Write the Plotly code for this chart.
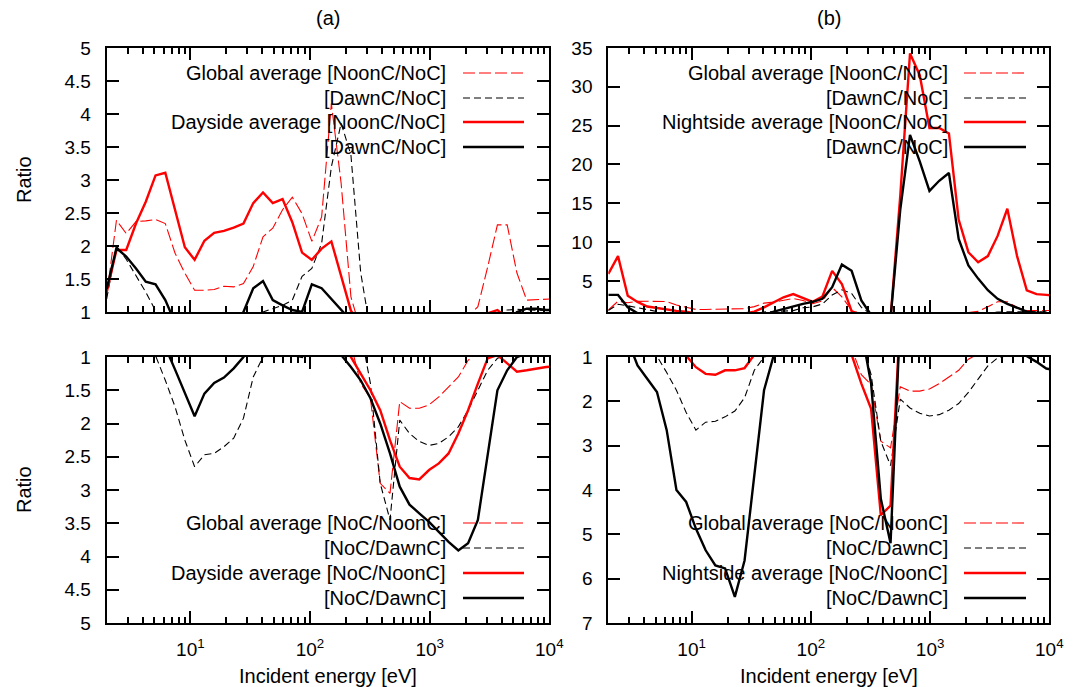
import math
import plotly.graph_objects as go

W, H = 1085, 687

# ---------------- data ----------------
energy = [2.000, 2.413, 2.912, 3.515, 4.242, 5.119, 6.178, 7.456, 8.999, 10.86,
          13.11, 15.82, 19.09, 23.04, 27.80, 33.55, 40.49, 48.86, 58.97, 71.15,
          85.87, 103.6, 125.1, 150.9, 182.1, 219.8, 265.2, 320.1, 386.3, 466.2,
          562.4, 678.8, 819.1, 988.4, 1193, 1439, 1737, 2096, 2530, 3053,
          3684, 4446, 5366, 6475, 7814, 9430, 11380]

global_noon_noc = [1.25, 2.39, 2.19, 2.37, 2.38, 2.40, 2.34, 1.89, 1.59, 1.33,
                   1.33, 1.34, 1.39, 1.38, 1.43, 1.69, 2.14, 2.27, 2.55, 2.74,
                   2.49, 2.07, 2.44, 4.16, 2.95, 1.23, 0.72, 0.60, 0.35, 0.33,
                   0.60, 0.57, 0.56, 0.58, 0.62, 0.69, 0.77, 0.93, 1.08, 1.68,
                   2.32, 2.32, 1.59, 1.18, 1.19, 1.20, 1.20]
global_dawn_noc = [1.20, 2.00, 1.80, 1.55, 1.30, 1.02, 0.74, 0.57, 0.44, 0.38,
                   0.40, 0.41, 0.43, 0.45, 0.52, 0.77, 1.00, 1.05, 1.10, 1.18,
                   1.54, 1.66, 2.04, 3.20, 3.86, 3.38, 1.60, 0.71, 0.34, 0.29,
                   0.51, 0.47, 0.44, 0.43, 0.43, 0.45, 0.49, 0.56, 0.67, 0.83,
                   0.98, 1.03, 1.04, 1.03, 1.03, 1.02, 1.02]
day_noon_noc = [1.30, 1.94, 1.94, 2.34, 2.67, 3.07, 3.11, 2.55, 1.98, 1.79,
                2.08, 2.20, 2.23, 2.28, 2.34, 2.65, 2.81, 2.65, 2.71, 2.36,
                1.90, 1.79, 1.96, 2.07, 1.55, 1.02, 0.80, 0.67, 0.56, 0.44,
                0.38, 0.355, 0.352, 0.37, 0.38, 0.41, 0.47, 0.56, 0.71, 0.98,
                1.03, 0.91, 0.82, 0.83, 0.85, 0.87, 0.88]
day_dawn_noc = [1.35, 1.97, 1.84, 1.66, 1.46, 1.42, 1.18, 0.84, 0.65, 0.53,
                0.65, 0.72, 0.76, 0.85, 1.00, 1.36, 1.47, 1.18, 1.10, 1.03,
                1.00, 1.42, 1.36, 1.19, 1.03, 0.87, 0.74, 0.62, 0.50, 0.41,
                0.34, 0.31, 0.30, 0.29, 0.28, 0.265, 0.256, 0.26, 0.29, 0.41,
                0.67, 0.83, 1.00, 1.05, 1.05, 1.03, 1.03]
night_noon_noc = [5.9, 8.2, 3.1, 2.3, 1.7, 1.5, 1.3, 1.15, 1.03, 0.80,
                  0.72, 0.71, 0.77, 0.77, 0.80, 1.05, 1.6, 2.3, 2.9, 3.3,
                  2.8, 2.3, 3.0, 6.3, 4.6, 1.1, 0.62, 0.46, 0.22, 0.23,
                  16.0, 34.3, 31.5, 24.7, 24.7, 24.0, 12.9, 8.7, 7.4, 8.2,
                  10.8, 14.3, 8.2, 3.8, 3.3, 3.2, 3.1]
night_dawn_noc = [3.2, 3.2, 1.6, 0.85, 0.67, 0.56, 0.38, 0.25, 0.23, 0.20,
                  0.19, 0.175, 0.173, 0.156, 0.18, 0.28, 0.57, 1.05, 1.4, 1.7,
                  2.05, 2.3, 2.7, 4.2, 7.1, 6.3, 2.5, 0.62, 0.24, 0.19,
                  14.2, 23.8, 20.4, 16.6, 17.9, 18.9, 10.4, 7.0, 5.3, 3.8,
                  2.7, 2.05, 1.55, 1.05, 0.9, 0.77, 0.72]

global_noc_noon = [0.80, 0.42, 0.46, 0.42, 0.42, 0.42, 0.43, 0.53, 0.63, 0.75,
                   0.75, 0.75, 0.72, 0.72, 0.70, 0.59, 0.47, 0.44, 0.39, 0.36,
                   0.40, 0.48, 0.41, 0.24, 0.34, 0.81, 1.40, 1.62, 2.90, 3.05,
                   1.67, 1.77, 1.77, 1.72, 1.60, 1.45, 1.30, 1.05, 0.93, 0.60,
                   0.43, 0.43, 0.63, 0.85, 0.84, 0.83, 0.83]
global_noc_dawn = [0.83, 0.50, 0.56, 0.65, 0.77, 0.98, 1.35, 1.75, 2.25, 2.65,
                   2.47, 2.45, 2.35, 2.22, 1.92, 1.30, 1.00, 0.95, 0.91, 0.85,
                   0.65, 0.60, 0.49, 0.31, 0.26, 0.30, 0.62, 1.40, 2.90, 3.45,
                   1.95, 2.15, 2.27, 2.33, 2.30, 2.20, 2.05, 1.80, 1.50, 1.20,
                   1.02, 0.97, 0.96, 0.97, 0.97, 0.98, 0.98]
day_noc_noon = [0.77, 0.52, 0.52, 0.43, 0.37, 0.33, 0.32, 0.39, 0.50, 0.56,
                0.48, 0.45, 0.45, 0.44, 0.43, 0.38, 0.36, 0.38, 0.37, 0.42,
                0.53, 0.56, 0.51, 0.48, 0.63, 1.00, 1.25, 1.50, 1.80, 2.25,
                2.65, 2.82, 2.84, 2.70, 2.60, 2.45, 2.15, 1.80, 1.40, 1.02,
                0.97, 1.10, 1.22, 1.20, 1.17, 1.15, 1.14]
day_noc_dawn = [0.74, 0.51, 0.54, 0.60, 0.68, 0.70, 0.85, 1.19, 1.55, 1.89,
                1.55, 1.39, 1.31, 1.17, 1.00, 0.74, 0.68, 0.85, 0.91, 0.97,
                1.00, 0.70, 0.73, 0.84, 0.97, 1.15, 1.35, 1.62, 2.00, 2.45,
                2.95, 3.22, 3.35, 3.48, 3.63, 3.78, 3.91, 3.80, 3.45, 2.45,
                1.50, 1.20, 1.00, 0.95, 0.95, 0.97, 0.97]
night_noc_noon = [0.17, 0.12, 0.32, 0.43, 0.59, 0.67, 0.77, 0.87, 0.97, 1.23,
                  1.38, 1.40, 1.30, 1.30, 1.25, 0.95, 0.63, 0.43, 0.34, 0.30,
                  0.36, 0.43, 0.33, 0.16, 0.22, 0.95, 1.60, 2.17, 4.57, 4.35,
                  0.06, 0.03, 0.03, 0.04, 0.04, 0.04, 0.08, 0.11, 0.14, 0.12,
                  0.09, 0.07, 0.12, 0.26, 0.30, 0.31, 0.32]
night_noc_dawn = [0.31, 0.31, 0.62, 1.19, 1.49, 1.79, 2.65, 4.00, 4.27, 4.87,
                  5.36, 5.70, 5.77, 6.41, 5.59, 3.63, 1.75, 0.96, 0.71, 0.59,
                  0.49, 0.43, 0.37, 0.24, 0.14, 0.16, 0.40, 1.60, 4.20, 5.20,
                  0.07, 0.04, 0.05, 0.06, 0.056, 0.053, 0.10, 0.14, 0.19, 0.26,
                  0.37, 0.49, 0.65, 0.98, 1.11, 1.26, 1.30]

x_tickvals = [10, 100, 1000, 10000]
x_ticktext = ["10<sup>1</sup>", "10<sup>2</sup>", "10<sup>3</sup>", "10<sup>4</sup>"]
ratio_ticks_a = [1, 1.5, 2, 2.5, 3, 3.5, 4, 4.5, 5]
ratio_ticks_b_top = [5, 10, 15, 20, 25, 30, 35]
ratio_ticks_b_bot = [1, 2, 3, 4, 5, 6, 7]

legend_top_a = ["Global average [NoonC/NoC]", "[DawnC/NoC]", "Dayside average [NoonC/NoC]", "[DawnC/NoC]"]
legend_top_b = ["Global average [NoonC/NoC]", "[DawnC/NoC]", "Nightside average [NoonC/NoC]", "[DawnC/NoC]"]
legend_bot_a = ["Global average [NoC/NoonC]", "[NoC/DawnC]", "Dayside average [NoC/NoonC]", "[NoC/DawnC]"]
legend_bot_b = ["Global average [NoC/NoonC]", "[NoC/DawnC]", "Nightside average [NoC/NoonC]", "[NoC/DawnC]"]

# ---------------- styles ----------------
FONT = "Liberation Sans, Arial, Helvetica, sans-serif"
RED = "#ff0000"
BLACK = "#000000"
styles = [
    dict(color=RED, width=1.1, dash="12px,4px"),
    dict(color=BLACK, width=1.1, dash="7px,4px"),
    dict(color=RED, width=2.4, dash="solid"),
    dict(color=BLACK, width=2.4, dash="solid"),
]

def px(x):
    return x / W

def py(y):
    return 1 - y / H

fig = go.Figure()

panels = [
    ("x", "y", [global_noon_noc, global_dawn_noc, day_noon_noc, day_dawn_noc]),
    ("x2", "y2", [global_noon_noc, global_dawn_noc, night_noon_noc, night_dawn_noc]),
    ("x3", "y3", [global_noc_noon, global_noc_dawn, day_noc_noon, day_noc_dawn]),
    ("x4", "y4", [global_noc_noon, global_noc_dawn, night_noc_noon, night_noc_dawn]),
]
for xa, ya, series in panels:
    for s, st in zip(series, styles):
        fig.add_trace(go.Scatter(x=energy, y=s, mode="lines", line=st,
                                 xaxis=xa, yaxis=ya, showlegend=False,
                                 hoverinfo="skip"))

xl = [106.7, 549.3]
xr = [608.3, 1049.3]
yt = [48, 312]
yb = [357, 623]

def xaxis(dom, anchor, labels):
    return dict(
        domain=[px(dom[0]), px(dom[1])], anchor=anchor, type="log",
        range=[math.log10(2), 4], showgrid=False, zeroline=False,
        showline=True, linecolor="black", linewidth=2, mirror="allticks",
        ticks="inside", ticklen=12, tickwidth=1.5, tickcolor="black",
        tickmode="array", tickvals=x_tickvals, ticktext=x_ticktext,
        showticklabels=labels, ticklabelstandoff=8, automargin=False,
        tickfont=dict(family=FONT, size=19, color="black"),
        minor=dict(ticks="inside", ticklen=6, tickwidth=1.5, tickcolor="black",
                   dtick="D1", showgrid=False),
    )

def yaxis(dom, anchor, rng, vals):
    return dict(
        domain=[py(dom[1]), py(dom[0])], anchor=anchor, range=rng,
        showgrid=False, zeroline=False, showline=True, linecolor="black",
        linewidth=2, mirror="allticks", ticks="inside", ticklen=12,
        tickwidth=1.5, tickcolor="black", tickmode="array", tickvals=vals,
        ticktext=[("%g" % v) for v in vals], ticklabelstandoff=10,
        automargin=False,
        tickfont=dict(family=FONT, size=19, color="black"),
    )

fig.update_layout(
    width=W, height=H, autosize=False,
    margin=dict(l=0, r=0, t=0, b=0, pad=0),
    paper_bgcolor="white", plot_bgcolor="white",
    font=dict(family=FONT, size=19, color="black"),
    xaxis=xaxis(xl, "y", False),
    yaxis=yaxis(yt, "x", [1, 5], ratio_ticks_a),
    xaxis2=xaxis(xr, "y2", False),
    yaxis2=yaxis(yt, "x2", [1, 35], ratio_ticks_b_top),
    xaxis3=xaxis(xl, "y3", True),
    yaxis3=yaxis(yb, "x3", [5, 1], ratio_ticks_a),
    xaxis4=xaxis(xr, "y4", True),
    yaxis4=yaxis(yb, "x4", [7, 1], ratio_ticks_b_bot),
)

ann = []
shapes = []

def text(x, y, s, **kw):
    d = dict(x=px(x), y=py(y), xref="paper", yref="paper", text=s,
             showarrow=False, xanchor="center", yanchor="middle",
             font=dict(family=FONT, size=20, color="black"))
    d.update(kw)
    ann.append(d)

text(328, 18, "(a)")
text(828.8, 18, "(b)")
text(328, 676, "Incident energy [eV]")
text(828.8, 676, "Incident energy [eV]")
text(24, 180, "Ratio", textangle=-90)
text(24, 490, "Ratio", textangle=-90)

def legend(labels, text_right, line_x0, line_x1, rows):
    for lab, st, yy in zip(labels, styles, rows):
        text(text_right, yy, lab, xanchor="right")
        shapes.append(dict(type="line", xref="paper", yref="paper",
                           x0=px(line_x0), x1=px(line_x1), y0=py(yy), y1=py(yy),
                           line=dict(color=st["color"], width=st["width"], dash=st["dash"])))

top_rows = [73, 98, 122, 147]
bot_rows = [523, 548, 573, 598]
legend(legend_top_a, 448, 463, 524, top_rows)
legend(legend_top_b, 950, 964, 1026, top_rows)
legend(legend_bot_a, 448, 463, 524, bot_rows)
legend(legend_bot_b, 950, 964, 1026, bot_rows)

fig.update_layout(annotations=ann, shapes=shapes)
fig.write_html(
    "out.html",
    post_script="document.body.style.margin='0px';document.body.style.padding='0px';"
                "document.documentElement.style.overflow='hidden';document.body.style.overflow='hidden';",
)
